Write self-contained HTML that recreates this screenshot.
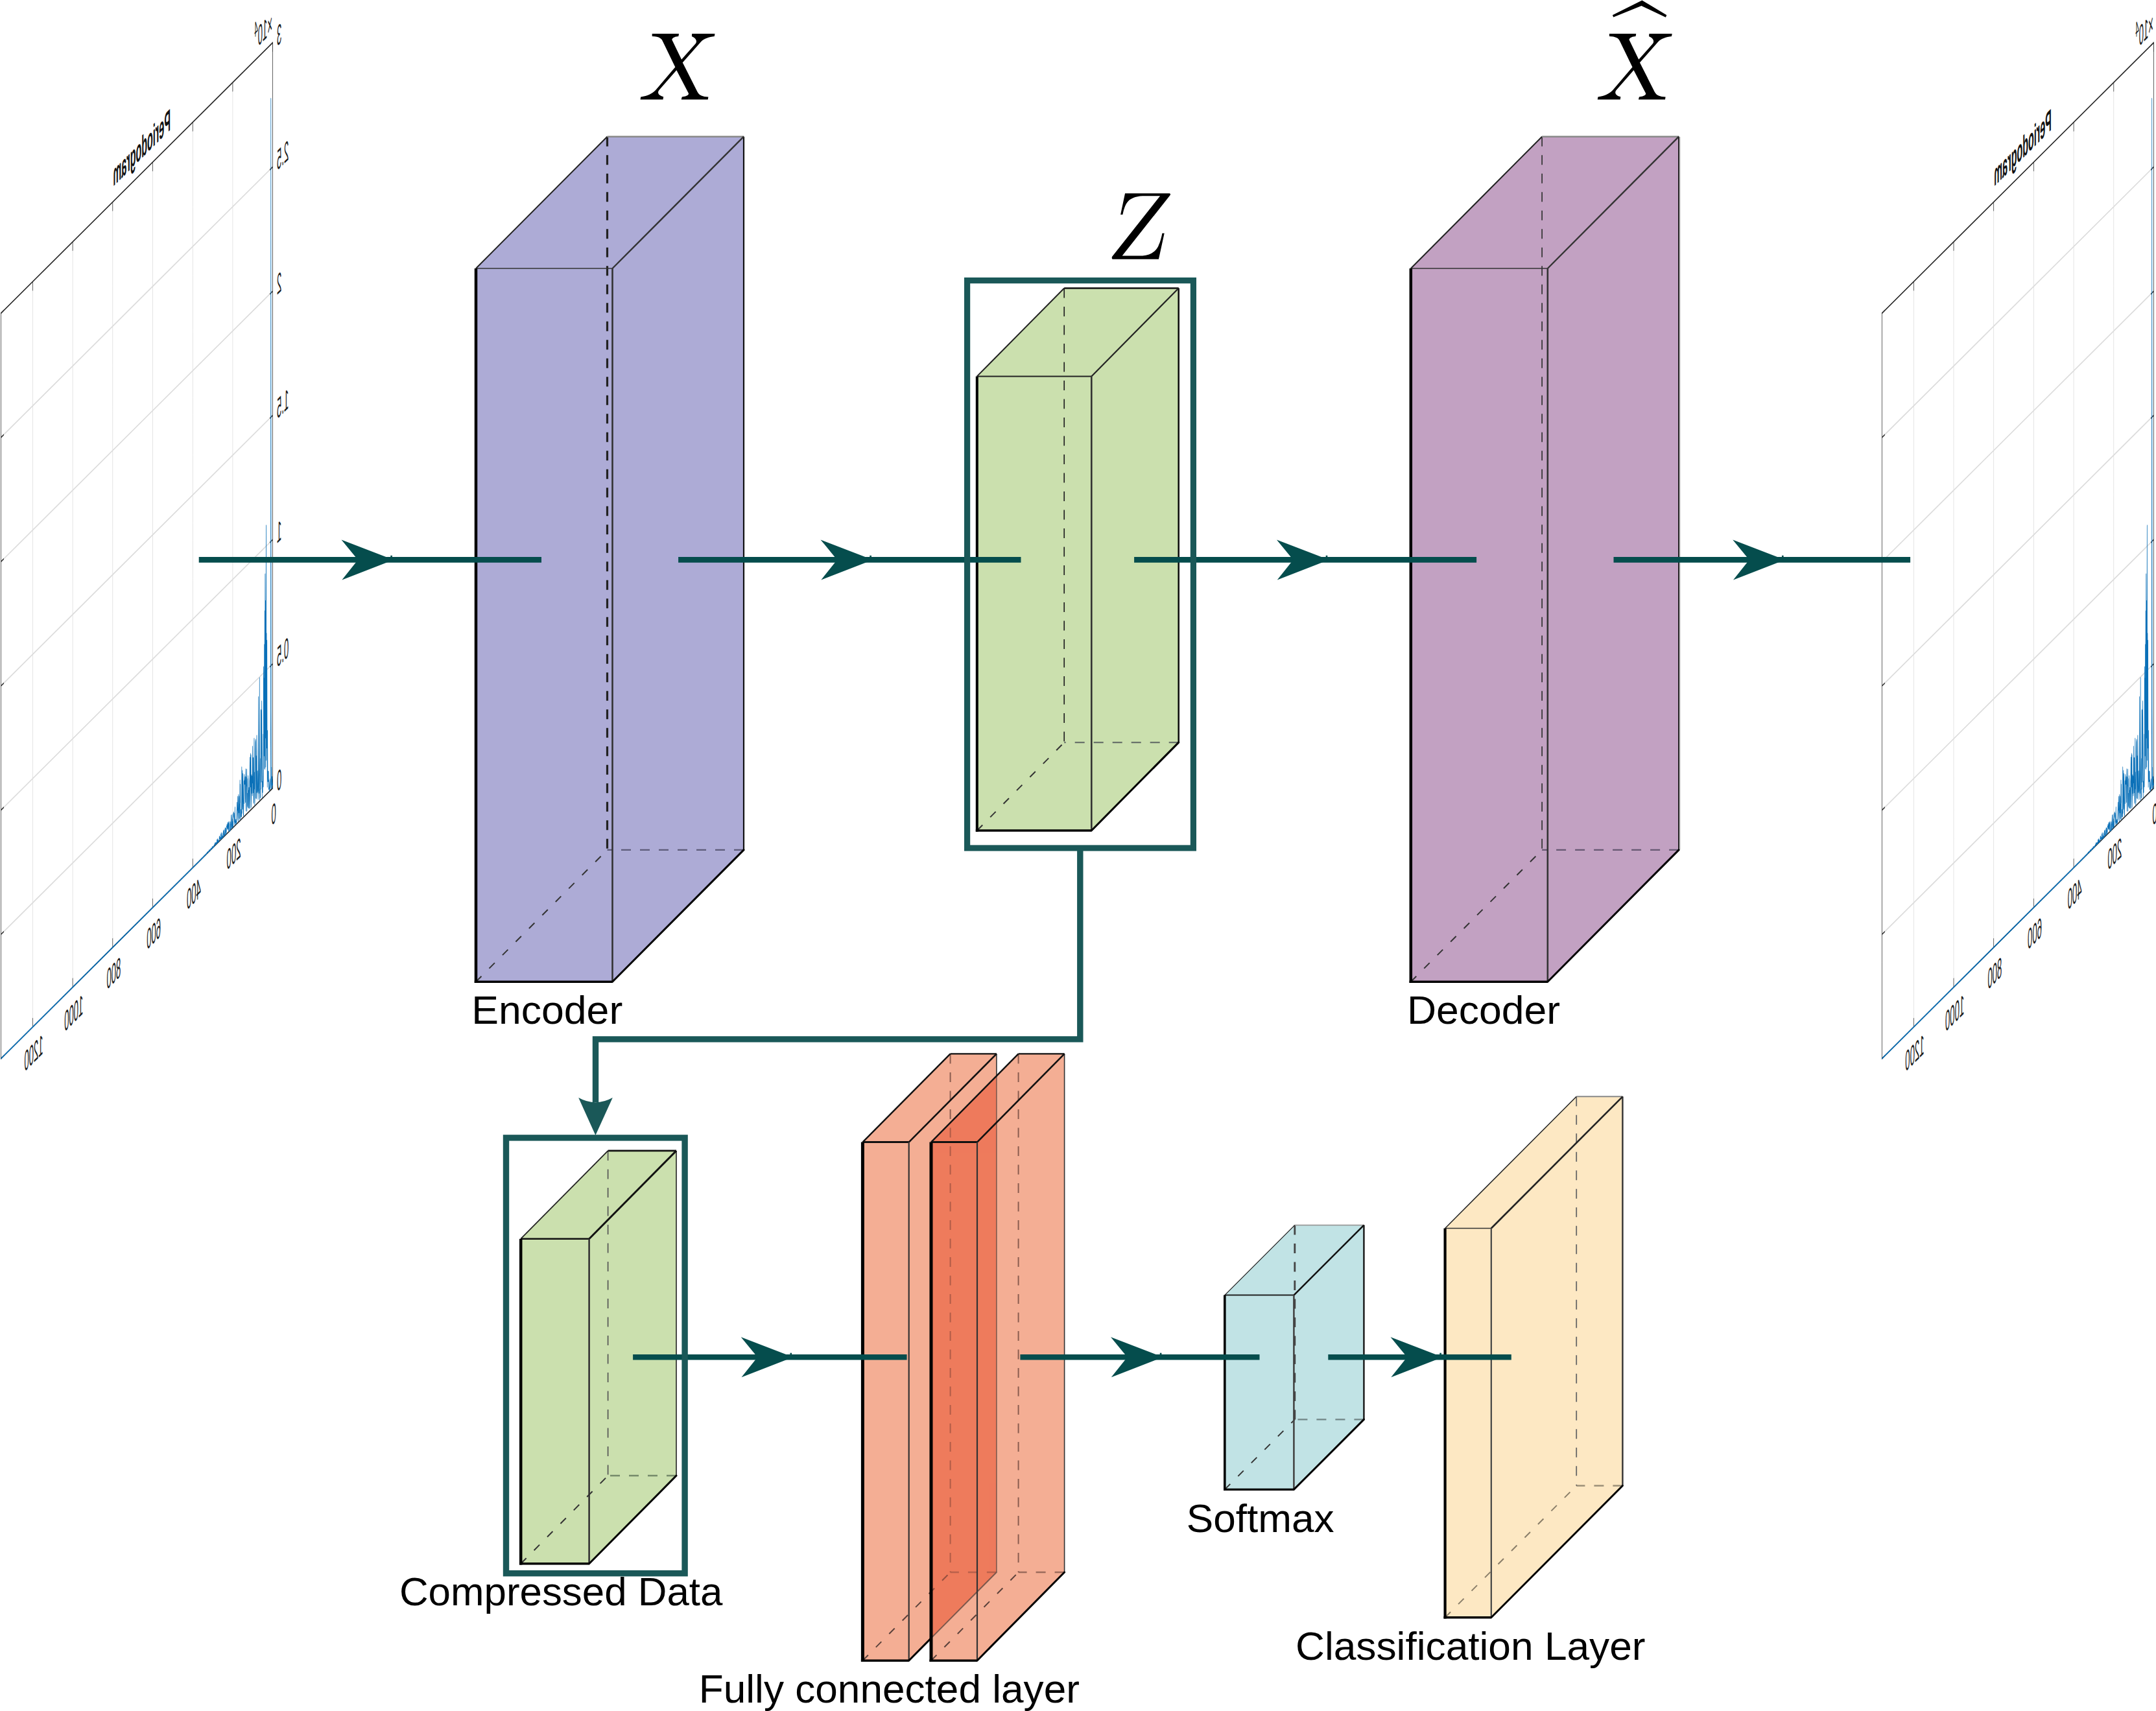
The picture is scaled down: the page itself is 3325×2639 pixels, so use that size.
<!DOCTYPE html>
<html><head><meta charset="utf-8"><title>Autoencoder diagram</title>
<style>html,body{margin:0;padding:0;background:#fff}body{width:3325px;height:2639px;overflow:hidden}svg{display:block}</style>
</head><body>
<svg width="3325" height="2639" viewBox="0 0 3325 2639">
<rect width="3325" height="2639" fill="#fff"/>
<defs>
<g id="plot">
<path d="M192.81,65.8 V1215.5 M385.62,65.8 V1215.5 M578.44,65.8 V1215.5 M771.25,65.8 V1215.5 M964.06,65.8 V1215.5 M1156.88,65.8 V1215.5 M0,1023.88 H1310 M0,832.27 H1310 M0,640.65 H1310 M0,449.03 H1310 M0,257.42 H1310" fill="none" stroke="#dcdcdc" stroke-width="2.4"/>
<path d="M0,65.8 H1310 V1215.5 H0 Z" fill="none" stroke="#222" stroke-width="2.2"/>
<path d="M0,65.8 v14 M0,1215.5 v-14 M192.81,65.8 v14 M192.81,1215.5 v-14 M385.62,65.8 v14 M385.62,1215.5 v-14 M578.44,65.8 v14 M578.44,1215.5 v-14 M771.25,65.8 v14 M771.25,1215.5 v-14 M964.06,65.8 v14 M964.06,1215.5 v-14 M1156.88,65.8 v14 M1156.88,1215.5 v-14 M0,1215.5 h14 M1310,1215.5 h-14 M0,1023.88 h14 M1310,1023.88 h-14 M0,832.27 h14 M1310,832.27 h-14 M0,640.65 h14 M1310,640.65 h-14 M0,449.03 h14 M1310,449.03 h-14 M0,257.42 h14 M1310,257.42 h-14 M0,65.8 h14 M1310,65.8 h-14" fill="none" stroke="#333" stroke-width="2.2"/>
<path d="M0,1211.86 L0.96,1208.06 L1.93,1208.85 L2.89,1197.47 L3.85,1214.49 L4.82,1213.98 L5.78,1182.54 L6.74,1213.12 L7.71,1095.5 L8.67,149.5 L9.63,1095.5 L10.6,1205.77 L11.56,1213.68 L12.52,1197.87 L13.49,1201.96 L14.45,1210.32 L15.41,1210.84 L16.38,1214.68 L17.34,1209.34 L18.3,1197.99 L19.26,1210.98 L20.23,1183.98 L21.19,1197.74 L22.15,1182.9 L23.12,1197.86 L24.08,1181.89 L25.04,1119.41 L26.01,1205.33 L26.97,1124.88 L27.93,979.37 L28.9,1144.01 L29.86,967.95 L30.82,1162.32 L31.79,800.5 L32.75,971.28 L33.71,1171.86 L34.68,916.09 L35.64,1126.18 L36.6,873.93 L37.57,1174.15 L38.53,930.46 L39.49,1171.96 L40.46,981.62 L41.42,1152.04 L42.38,1033.08 L43.35,1046.69 L44.31,1014.78 L45.27,1198.7 L46.24,1118.31 L47.2,1173.27 L48.16,1206.46 L49.13,1204.21 L50.09,1189.84 L51.05,1213.72 L52.01,1131.53 L52.98,1064.7 L53.94,1118.72 L54.9,1188.13 L55.87,1077.29 L56.83,1077.77 L57.79,1198.22 L58.76,1151.72 L59.72,1211.1 L60.68,1204.41 L61.65,1197.97 L62.61,1213.59 L63.57,1025.5 L64.54,1148.53 L65.5,1184.82 L66.46,1201.85 L67.43,1196.7 L68.39,1053.31 L69.35,1192.89 L70.32,1210.19 L71.28,1200.32 L72.24,1183.21 L73.21,1166.3 L74.17,1197.22 L75.13,1198.02 L76.1,1139.93 L77.06,1110.23 L78.02,1206.61 L78.99,1166.94 L79.95,1141.13 L80.91,1204.76 L81.88,1117.77 L82.84,1114.51 L83.8,1118.19 L84.76,1164.95 L85.73,1204.31 L86.69,1213.59 L87.65,1163.76 L88.62,1187.78 L89.58,1110.66 L90.54,1188.12 L91.51,1208.37 L92.47,1209.06 L93.43,1139.53 L94.4,1191.94 L95.36,1139.1 L96.32,1176.31 L97.29,1120.5 L98.25,1195.49 L99.21,1173.65 L100.18,1165.77 L101.14,1190.98 L102.1,1163.11 L103.07,1197.51 L104.03,1211.63 L104.99,1131.52 L105.96,1179.29 L106.92,1128.63 L107.88,1170.64 L108.85,1211.85 L109.81,1133.54 L110.77,1163.28 L111.74,1169.29 L112.7,1198.15 L113.66,1209.61 L114.63,1178.73 L115.59,1209.36 L116.55,1182.77 L117.51,1207.31 L118.48,1159.12 L119.44,1168.14 L120.4,1163.18 L121.37,1203.43 L122.33,1205.14 L123.29,1185.04 L124.26,1210.85 L125.22,1147.09 L126.18,1171.57 L127.15,1158.52 L128.11,1181.99 L129.07,1209.25 L130.04,1145.13 L131,1158.94 L131.96,1195.08 L132.93,1156.21 L133.89,1162.5 L134.85,1166.14 L135.82,1164.86 L136.78,1151.63 L137.74,1194.89 L138.71,1160.69 L139.67,1197.17 L140.63,1212.15 L141.6,1213.17 L142.56,1184.88 L143.52,1147.9 L144.49,1182.2 L145.45,1201.24 L146.41,1142.24 L147.38,1179.88 L148.34,1206.68 L149.3,1135.96 L150.26,1211.47 L151.23,1204.44 L152.19,1210.83 L153.15,1200.45 L154.12,1203.81 L155.08,1214.36 L156.04,1160.69 L157.01,1187.25 L157.97,1153.45 L158.93,1212.85 L159.9,1189.72 L160.86,1210.07 L161.82,1177.11 L162.79,1201.19 L163.75,1189.19 L164.71,1173.51 L165.68,1213.51 L166.64,1204.59 L167.6,1193.85 L168.57,1175.32 L169.53,1194.85 L170.49,1195.84 L171.46,1209.13 L172.42,1183.01 L173.38,1211.79 L174.35,1208.9 L175.31,1213.82 L176.27,1214.52 L177.24,1211.84 L178.2,1207.52 L179.16,1210.24 L180.13,1211.83 L181.09,1212.82 L182.05,1187.29 L183.01,1213.49 L183.98,1207.21 L184.94,1208.41 L185.9,1195.94 L186.87,1198.64 L187.83,1192.97 L188.79,1200.63 L189.76,1194.04 L190.72,1212.49 L191.68,1214.88 L192.65,1206.18 L193.61,1213.72 L194.57,1206.56 L195.54,1194.54 L196.5,1213.63 L197.46,1213.59 L198.43,1214.38 L199.39,1205.11 L200.35,1193.93 L201.32,1205.6 L202.28,1213.62 L203.24,1215.28 L204.21,1202.99 L205.17,1206.59 L206.13,1215.27 L207.1,1214.85 L208.06,1215.09 L209.02,1213.82 L209.99,1202.5 L210.95,1200.35 L211.91,1201.07 L212.88,1213.52 L213.84,1210.85 L214.8,1201.61 L215.76,1209.15 L216.73,1199.74 L217.69,1202.13 L218.65,1208.8 L219.62,1205.34 L220.58,1201.9 L221.54,1204.79 L222.51,1203.84 L223.47,1214.46 L224.43,1214.85 L225.4,1209.81 L226.36,1206 L227.32,1205.48 L228.29,1213.65 L229.25,1204.01 L230.21,1207.14 L231.18,1213.16 L232.14,1212.94 L233.1,1215.13 L234.07,1213.04 L235.03,1205.58 L235.99,1213.85 L236.96,1208.2 L237.92,1205.8 L238.88,1213.49 L239.85,1214.96 L240.81,1213.27 L241.77,1213.8 L242.74,1215.22 L243.7,1207.55 L244.66,1213.61 L245.63,1214.06 L246.59,1214.21 L247.55,1213.17 L248.51,1205.9 L249.48,1215.36 L250.44,1207.51 L251.4,1214.38 L252.37,1211.59 L253.33,1211.67 L254.29,1212.06 L255.26,1213.42 L256.22,1208.53 L257.18,1208.27 L258.15,1212.02 L259.11,1214.5 L260.07,1215.42 L261.04,1214.62 L262,1215.18 L262.96,1212.14 L263.93,1213.19 L264.89,1214.1 L265.85,1209.69 L266.82,1214.09 L267.78,1214.9 L268.74,1209.92 L269.71,1214.96 L270.67,1215.09 L271.63,1213.59 L272.6,1213.21 L273.56,1215.17 L274.52,1214.89 L275.49,1213.27 L276.45,1211.89 L277.41,1212.82 L278.38,1212.08 L279.34,1214.86 L280.3,1214.88 L281.26,1213.1 L282.23,1215.26 L283.19,1214.8 L284.15,1215.13 L285.12,1214.14 L286.08,1214.8 L287.04,1215.03 L288.01,1215.1 L288.97,1215.36 L289.93,1214.39 L290.9,1215.16 L291.86,1213.24 L292.82,1215.21 L293.79,1215.36 L294.75,1215.28 L295.71,1215.34 L296.68,1214.04 L297.64,1215.07 L298.6,1214.32 L299.57,1215.29 L300.53,1215.45 L301.49,1215.01 L302.46,1214.32 L303.42,1215.08 L304.38,1215.36 L305.35,1215.31 L306.31,1213.85 L307.27,1215.12 L308.24,1214.92 L309.2,1215.13 L310.16,1215.26 L311.13,1214.7 L312.09,1214.28 L313.05,1215.15 L314.01,1215.45 L314.98,1214.7 L315.94,1214.34 L316.9,1214.66 L317.87,1214.84 L318.83,1215.11 L319.79,1215.04 L320.76,1215.33 L321.72,1215.46 L322.68,1214.88 L323.65,1215.47 L324.61,1215.01 L325.57,1215.42 L326.54,1215.39 L327.5,1215.45 L328.46,1214.92 L329.43,1215.36 L330.39,1215.46 L331.35,1214.94 L332.32,1215.45 L333.28,1215.16 L334.24,1215.44 L335.21,1215.1 L336.17,1215.46 L337.13,1215.45 L338.1,1215.41 L339.06,1215.07 L340.02,1215.43 L340.99,1215.37 L341.95,1215.39 L342.91,1215.29 L343.88,1215.27 L344.84,1215.44 L345.8,1215.47 L346.76,1215.17 L347.73,1215.48 L348.69,1215.31 L349.65,1215.48 L350.62,1215.49 L351.58,1215.12 L352.54,1215.18 L353.51,1215.4 L354.47,1215.33 L355.43,1215.42 L356.4,1215.43 L357.36,1215.46 L358.32,1215.48 L359.29,1215.47 L360.25,1215.41 L361.21,1215.41 L362.18,1215.32 L363.14,1215.43 L364.1,1215.49 L365.07,1215.33 L366.03,1215.48 L366.99,1215.43 L367.96,1215.34 L368.92,1215.44 L369.88,1215.49 L370.85,1215.43 L371.81,1215.29 L372.77,1215.48 L373.74,1215.26 L374.7,1215.39 L375.66,1215.48 L376.63,1215.42 L377.59,1215.3 L378.55,1215.45 L379.51,1215.49 L380.48,1215.31 L381.44,1215.48 L382.4,1215.48 L383.37,1215.46 L384.33,1215.36 L385.29,1215.36 L386.26,1215.48 L387.22,1215.49 L388.18,1215.47 L389.15,1215.44 L390.11,1215.49 L391.07,1215.46 L392.04,1215.45 L393,1215.41 L393.96,1215.49 L394.93,1215.5 L395.89,1215.49 L396.85,1215.5 L397.82,1215.45 L398.78,1215.45 L399.74,1215.49 L400.71,1215.49 L401.67,1215.49 L402.63,1215.49 L403.6,1215.5 L404.56,1215.49 L405.52,1215.5 L406.49,1215.5 L407.45,1215.5 L408.41,1215.5 L409.38,1215.5 L410.34,1215.5 L411.3,1215.5 L412.26,1215.5 L413.23,1215.5 L414.19,1215.5 L415.15,1215.5 L416.12,1215.5 L417.08,1215.5 L418.04,1215.5 L419.01,1215.5 L419.97,1215.5 L420.93,1215.5 L421.9,1215.5 L422.86,1215.5 L423.82,1215.5 L424.79,1215.5 L425.75,1215.5 L426.71,1215.5 L427.68,1215.5 L428.64,1215.5 L429.6,1215.5 L430.57,1215.5 L431.53,1215.5 L432.49,1215.5 L433.46,1215.5 L434.42,1215.5 L435.38,1215.5 L436.35,1215.5 L437.31,1215.5 L438.27,1215.5 L439.24,1215.5 L440.2,1215.5 L441.16,1215.5 L442.13,1215.5 L443.09,1215.5 L444.05,1215.5 L445.01,1215.5 L445.98,1215.5 L446.94,1215.5 L447.9,1215.5 L448.87,1215.5 L449.83,1215.5 L450.79,1215.5 L451.76,1215.5 L452.72,1215.5 L453.68,1215.5 L454.65,1215.5 L455.61,1215.5 L456.57,1215.5 L457.54,1215.5 L458.5,1215.5 L459.46,1215.5 L460.43,1215.5 L461.39,1215.5 L462.35,1215.5 L463.32,1215.5 L464.28,1215.5 L465.24,1215.5 L466.21,1215.5 L467.17,1215.5 L468.13,1215.5 L469.1,1215.5 L470.06,1215.5 L471.02,1215.5 L471.99,1215.5 L472.95,1215.5 L473.91,1215.5 L474.88,1215.5 L475.84,1215.5 L476.8,1215.5 L477.76,1215.5 L478.73,1215.5 L479.69,1215.5 L480.65,1215.5 L481.62,1215.5 L482.58,1215.5 L483.54,1215.5 L484.51,1215.5 L485.47,1215.5 L486.43,1215.5 L487.4,1215.5 L488.36,1215.5 L489.32,1215.5 L490.29,1215.5 L491.25,1215.5 L492.21,1215.5 L493.18,1215.5 L494.14,1215.5 L495.1,1215.5 L496.07,1215.5 L497.03,1215.5 L497.99,1215.5 L498.96,1215.5 L499.92,1215.5 L500.88,1215.5 L501.85,1215.5 L502.81,1215.5 L503.77,1215.5 L504.74,1215.5 L505.7,1215.5 L506.66,1215.5 L507.63,1215.5 L508.59,1215.5 L509.55,1215.5 L510.51,1215.5 L511.48,1215.5 L512.44,1215.5 L513.4,1215.5 L514.37,1215.5 L515.33,1215.5 L516.29,1215.5 L517.26,1215.5 L518.22,1215.5 L519.18,1215.5 L520.15,1215.5 L521.11,1215.5 L522.07,1215.5 L523.04,1215.5 L524,1215.5 L524.96,1215.5 L525.93,1215.5 L526.89,1215.5 L527.85,1215.5 L528.82,1215.5 L529.78,1215.5 L530.74,1215.5 L531.71,1215.5 L532.67,1215.5 L533.63,1215.5 L534.6,1215.5 L535.56,1215.5 L536.52,1215.5 L537.49,1215.5 L538.45,1215.5 L539.41,1215.5 L540.38,1215.5 L541.34,1215.5 L542.3,1215.5 L543.26,1215.5 L544.23,1215.5 L545.19,1215.5 L546.15,1215.5 L547.12,1215.5 L548.08,1215.5 L549.04,1215.5 L550.01,1215.5 L550.97,1215.5 L551.93,1215.5 L552.9,1215.5 L553.86,1215.5 L554.82,1215.5 L555.79,1215.5 L556.75,1215.5 L557.71,1215.5 L558.68,1215.5 L559.64,1215.5 L560.6,1215.5 L561.57,1215.5 L562.53,1215.5 L563.49,1215.5 L564.46,1215.5 L565.42,1215.5 L566.38,1215.5 L567.35,1215.5 L568.31,1215.5 L569.27,1215.5 L570.24,1215.5 L571.2,1215.5 L572.16,1215.5 L573.13,1215.5 L574.09,1215.5 L575.05,1215.5 L576.01,1215.5 L576.98,1215.5 L577.94,1215.5 L578.9,1215.5 L579.87,1215.5 L580.83,1215.5 L581.79,1215.5 L582.76,1215.5 L583.72,1215.5 L584.68,1215.5 L585.65,1215.5 L586.61,1215.5 L587.57,1215.5 L588.54,1215.5 L589.5,1215.5 L590.46,1215.5 L591.43,1215.5 L592.39,1215.5 L593.35,1215.5 L594.32,1215.5 L595.28,1215.5 L596.24,1215.5 L597.21,1215.5 L598.17,1215.5 L599.13,1215.5 L600.1,1215.5 L601.06,1215.5 L602.02,1215.5 L602.99,1215.5 L603.95,1215.5 L604.91,1215.5 L605.88,1215.5 L606.84,1215.5 L607.8,1215.5 L608.76,1215.5 L609.73,1215.5 L610.69,1215.5 L611.65,1215.5 L612.62,1215.5 L613.58,1215.5 L614.54,1215.5 L615.51,1215.5 L616.47,1215.5 L617.43,1215.5 L618.4,1215.5 L619.36,1215.5 L620.32,1215.5 L621.29,1215.5 L622.25,1215.5 L623.21,1215.5 L624.18,1215.5 L625.14,1215.5 L626.1,1215.5 L627.07,1215.5 L628.03,1215.5 L628.99,1215.5 L629.96,1215.5 L630.92,1215.5 L631.88,1215.5 L632.85,1215.5 L633.81,1215.5 L634.77,1215.5 L635.74,1215.5 L636.7,1215.5 L637.66,1215.5 L638.63,1215.5 L639.59,1215.5 L640.55,1215.5 L641.51,1215.5 L642.48,1215.5 L643.44,1215.5 L644.4,1215.5 L645.37,1215.5 L646.33,1215.5 L647.29,1215.5 L648.26,1215.5 L649.22,1215.5 L650.18,1215.5 L651.15,1215.5 L652.11,1215.5 L653.07,1215.5 L654.04,1215.5 L655,1215.5 L655.96,1215.5 L656.93,1215.5 L657.89,1215.5 L658.85,1215.5 L659.82,1215.5 L660.78,1215.5 L661.74,1215.5 L662.71,1215.5 L663.67,1215.5 L664.63,1215.5 L665.6,1215.5 L666.56,1215.5 L667.52,1215.5 L668.49,1215.5 L669.45,1215.5 L670.41,1215.5 L671.38,1215.5 L672.34,1215.5 L673.3,1215.5 L674.26,1215.5 L675.23,1215.5 L676.19,1215.5 L677.15,1215.5 L678.12,1215.5 L679.08,1215.5 L680.04,1215.5 L681.01,1215.5 L681.97,1215.5 L682.93,1215.5 L683.9,1215.5 L684.86,1215.5 L685.82,1215.5 L686.79,1215.5 L687.75,1215.5 L688.71,1215.5 L689.68,1215.5 L690.64,1215.5 L691.6,1215.5 L692.57,1215.5 L693.53,1215.5 L694.49,1215.5 L695.46,1215.5 L696.42,1215.5 L697.38,1215.5 L698.35,1215.5 L699.31,1215.5 L700.27,1215.5 L701.24,1215.5 L702.2,1215.5 L703.16,1215.5 L704.13,1215.5 L705.09,1215.5 L706.05,1215.5 L707.01,1215.5 L707.98,1215.5 L708.94,1215.5 L709.9,1215.5 L710.87,1215.5 L711.83,1215.5 L712.79,1215.5 L713.76,1215.5 L714.72,1215.5 L715.68,1215.5 L716.65,1215.5 L717.61,1215.5 L718.57,1215.5 L719.54,1215.5 L720.5,1215.5 L721.46,1215.5 L722.43,1215.5 L723.39,1215.5 L724.35,1215.5 L725.32,1215.5 L726.28,1215.5 L727.24,1215.5 L728.21,1215.5 L729.17,1215.5 L730.13,1215.5 L731.1,1215.5 L732.06,1215.5 L733.02,1215.5 L733.99,1215.5 L734.95,1215.5 L735.91,1215.5 L736.88,1215.5 L737.84,1215.5 L738.8,1215.5 L739.76,1215.5 L740.73,1215.5 L741.69,1215.5 L742.65,1215.5 L743.62,1215.5 L744.58,1215.5 L745.54,1215.5 L746.51,1215.5 L747.47,1215.5 L748.43,1215.5 L749.4,1215.5 L750.36,1215.5 L751.32,1215.5 L752.29,1215.5 L753.25,1215.5 L754.21,1215.5 L755.18,1215.5 L756.14,1215.5 L757.1,1215.5 L758.07,1215.5 L759.03,1215.5 L759.99,1215.5 L760.96,1215.5 L761.92,1215.5 L762.88,1215.5 L763.85,1215.5 L764.81,1215.5 L765.77,1215.5 L766.74,1215.5 L767.7,1215.5 L768.66,1215.5 L769.63,1215.5 L770.59,1215.5 L771.55,1215.5 L772.51,1215.5 L773.48,1215.5 L774.44,1215.5 L775.4,1215.5 L776.37,1215.5 L777.33,1215.5 L778.29,1215.5 L779.26,1215.5 L780.22,1215.5 L781.18,1215.5 L782.15,1215.5 L783.11,1215.5 L784.07,1215.5 L785.04,1215.5 L786,1215.5 L786.96,1215.5 L787.93,1215.5 L788.89,1215.5 L789.85,1215.5 L790.82,1215.5 L791.78,1215.5 L792.74,1215.5 L793.71,1215.5 L794.67,1215.5 L795.63,1215.5 L796.6,1215.5 L797.56,1215.5 L798.52,1215.5 L799.49,1215.5 L800.45,1215.5 L801.41,1215.5 L802.38,1215.5 L803.34,1215.5 L804.3,1215.5 L805.26,1215.5 L806.23,1215.5 L807.19,1215.5 L808.15,1215.5 L809.12,1215.5 L810.08,1215.5 L811.04,1215.5 L812.01,1215.5 L812.97,1215.5 L813.93,1215.5 L814.9,1215.5 L815.86,1215.5 L816.82,1215.5 L817.79,1215.5 L818.75,1215.5 L819.71,1215.5 L820.68,1215.5 L821.64,1215.5 L822.6,1215.5 L823.57,1215.5 L824.53,1215.5 L825.49,1215.5 L826.46,1215.5 L827.42,1215.5 L828.38,1215.5 L829.35,1215.5 L830.31,1215.5 L831.27,1215.5 L832.24,1215.5 L833.2,1215.5 L834.16,1215.5 L835.13,1215.5 L836.09,1215.5 L837.05,1215.5 L838.01,1215.5 L838.98,1215.5 L839.94,1215.5 L840.9,1215.5 L841.87,1215.5 L842.83,1215.5 L843.79,1215.5 L844.76,1215.5 L845.72,1215.5 L846.68,1215.5 L847.65,1215.5 L848.61,1215.5 L849.57,1215.5 L850.54,1215.5 L851.5,1215.5 L852.46,1215.5 L853.43,1215.5 L854.39,1215.5 L855.35,1215.5 L856.32,1215.5 L857.28,1215.5 L858.24,1215.5 L859.21,1215.5 L860.17,1215.5 L861.13,1215.5 L862.1,1215.5 L863.06,1215.5 L864.02,1215.5 L864.99,1215.5 L865.95,1215.5 L866.91,1215.5 L867.88,1215.5 L868.84,1215.5 L869.8,1215.5 L870.76,1215.5 L871.73,1215.5 L872.69,1215.5 L873.65,1215.5 L874.62,1215.5 L875.58,1215.5 L876.54,1215.5 L877.51,1215.5 L878.47,1215.5 L879.43,1215.5 L880.4,1215.5 L881.36,1215.5 L882.32,1215.5 L883.29,1215.5 L884.25,1215.5 L885.21,1215.5 L886.18,1215.5 L887.14,1215.5 L888.1,1215.5 L889.07,1215.5 L890.03,1215.5 L890.99,1215.5 L891.96,1215.5 L892.92,1215.5 L893.88,1215.5 L894.85,1215.5 L895.81,1215.5 L896.77,1215.5 L897.74,1215.5 L898.7,1215.5 L899.66,1215.5 L900.63,1215.5 L901.59,1215.5 L902.55,1215.5 L903.51,1215.5 L904.48,1215.5 L905.44,1215.5 L906.4,1215.5 L907.37,1215.5 L908.33,1215.5 L909.29,1215.5 L910.26,1215.5 L911.22,1215.5 L912.18,1215.5 L913.15,1215.5 L914.11,1215.5 L915.07,1215.5 L916.04,1215.5 L917,1215.5 L917.96,1215.5 L918.93,1215.5 L919.89,1215.5 L920.85,1215.5 L921.82,1215.5 L922.78,1215.5 L923.74,1215.5 L924.71,1215.5 L925.67,1215.5 L926.63,1215.5 L927.6,1215.5 L928.56,1215.5 L929.52,1215.5 L930.49,1215.5 L931.45,1215.5 L932.41,1215.5 L933.38,1215.5 L934.34,1215.5 L935.3,1215.5 L936.26,1215.5 L937.23,1215.5 L938.19,1215.5 L939.15,1215.5 L940.12,1215.5 L941.08,1215.5 L942.04,1215.5 L943.01,1215.5 L943.97,1215.5 L944.93,1215.5 L945.9,1215.5 L946.86,1215.5 L947.82,1215.5 L948.79,1215.5 L949.75,1215.5 L950.71,1215.5 L951.68,1215.5 L952.64,1215.5 L953.6,1215.5 L954.57,1215.5 L955.53,1215.5 L956.49,1215.5 L957.46,1215.5 L958.42,1215.5 L959.38,1215.5 L960.35,1215.5 L961.31,1215.5 L962.27,1215.5 L963.24,1215.5 L964.2,1215.5 L965.16,1215.5 L966.13,1215.5 L967.09,1215.5 L968.05,1215.5 L969.01,1215.5 L969.98,1215.5 L970.94,1215.5 L971.9,1215.5 L972.87,1215.5 L973.83,1215.5 L974.79,1215.5 L975.76,1215.5 L976.72,1215.5 L977.68,1215.5 L978.65,1215.5 L979.61,1215.5 L980.57,1215.5 L981.54,1215.5 L982.5,1215.5 L983.46,1215.5 L984.43,1215.5 L985.39,1215.5 L986.35,1215.5 L987.32,1215.5 L988.28,1215.5 L989.24,1215.5 L990.21,1215.5 L991.17,1215.5 L992.13,1215.5 L993.1,1215.5 L994.06,1215.5 L995.02,1215.5 L995.99,1215.5 L996.95,1215.5 L997.91,1215.5 L998.88,1215.5 L999.84,1215.5 L1000.8,1215.5 L1001.76,1215.5 L1002.73,1215.5 L1003.69,1215.5 L1004.65,1215.5 L1005.62,1215.5 L1006.58,1215.5 L1007.54,1215.5 L1008.51,1215.5 L1009.47,1215.5 L1010.43,1215.5 L1011.4,1215.5 L1012.36,1215.5 L1013.32,1215.5 L1014.29,1215.5 L1015.25,1215.5 L1016.21,1215.5 L1017.18,1215.5 L1018.14,1215.5 L1019.1,1215.5 L1020.07,1215.5 L1021.03,1215.5 L1021.99,1215.5 L1022.96,1215.5 L1023.92,1215.5 L1024.88,1215.5 L1025.85,1215.5 L1026.81,1215.5 L1027.77,1215.5 L1028.74,1215.5 L1029.7,1215.5 L1030.66,1215.5 L1031.63,1215.5 L1032.59,1215.5 L1033.55,1215.5 L1034.51,1215.5 L1035.48,1215.5 L1036.44,1215.5 L1037.4,1215.5 L1038.37,1215.5 L1039.33,1215.5 L1040.29,1215.5 L1041.26,1215.5 L1042.22,1215.5 L1043.18,1215.5 L1044.15,1215.5 L1045.11,1215.5 L1046.07,1215.5 L1047.04,1215.5 L1048,1215.5 L1048.96,1215.5 L1049.93,1215.5 L1050.89,1215.5 L1051.85,1215.5 L1052.82,1215.5 L1053.78,1215.5 L1054.74,1215.5 L1055.71,1215.5 L1056.67,1215.5 L1057.63,1215.5 L1058.6,1215.5 L1059.56,1215.5 L1060.52,1215.5 L1061.49,1215.5 L1062.45,1215.5 L1063.41,1215.5 L1064.38,1215.5 L1065.34,1215.5 L1066.3,1215.5 L1067.26,1215.5 L1068.23,1215.5 L1069.19,1215.5 L1070.15,1215.5 L1071.12,1215.5 L1072.08,1215.5 L1073.04,1215.5 L1074.01,1215.5 L1074.97,1215.5 L1075.93,1215.5 L1076.9,1215.5 L1077.86,1215.5 L1078.82,1215.5 L1079.79,1215.5 L1080.75,1215.5 L1081.71,1215.5 L1082.68,1215.5 L1083.64,1215.5 L1084.6,1215.5 L1085.57,1215.5 L1086.53,1215.5 L1087.49,1215.5 L1088.46,1215.5 L1089.42,1215.5 L1090.38,1215.5 L1091.35,1215.5 L1092.31,1215.5 L1093.27,1215.5 L1094.24,1215.5 L1095.2,1215.5 L1096.16,1215.5 L1097.13,1215.5 L1098.09,1215.5 L1099.05,1215.5 L1100.01,1215.5 L1100.98,1215.5 L1101.94,1215.5 L1102.9,1215.5 L1103.87,1215.5 L1104.83,1215.5 L1105.79,1215.5 L1106.76,1215.5 L1107.72,1215.5 L1108.68,1215.5 L1109.65,1215.5 L1110.61,1215.5 L1111.57,1215.5 L1112.54,1215.5 L1113.5,1215.5 L1114.46,1215.5 L1115.43,1215.5 L1116.39,1215.5 L1117.35,1215.5 L1118.32,1215.5 L1119.28,1215.5 L1120.24,1215.5 L1121.21,1215.5 L1122.17,1215.5 L1123.13,1215.5 L1124.1,1215.5 L1125.06,1215.5 L1126.02,1215.5 L1126.99,1215.5 L1127.95,1215.5 L1128.91,1215.5 L1129.88,1215.5 L1130.84,1215.5 L1131.8,1215.5 L1132.76,1215.5 L1133.73,1215.5 L1134.69,1215.5 L1135.65,1215.5 L1136.62,1215.5 L1137.58,1215.5 L1138.54,1215.5 L1139.51,1215.5 L1140.47,1215.5 L1141.43,1215.5 L1142.4,1215.5 L1143.36,1215.5 L1144.32,1215.5 L1145.29,1215.5 L1146.25,1215.5 L1147.21,1215.5 L1148.18,1215.5 L1149.14,1215.5 L1150.1,1215.5 L1151.07,1215.5 L1152.03,1215.5 L1152.99,1215.5 L1153.96,1215.5 L1154.92,1215.5 L1155.88,1215.5 L1156.85,1215.5 L1157.81,1215.5 L1158.77,1215.5 L1159.74,1215.5 L1160.7,1215.5 L1161.66,1215.5 L1162.63,1215.5 L1163.59,1215.5 L1164.55,1215.5 L1165.51,1215.5 L1166.48,1215.5 L1167.44,1215.5 L1168.4,1215.5 L1169.37,1215.5 L1170.33,1215.5 L1171.29,1215.5 L1172.26,1215.5 L1173.22,1215.5 L1174.18,1215.5 L1175.15,1215.5 L1176.11,1215.5 L1177.07,1215.5 L1178.04,1215.5 L1179,1215.5 L1179.96,1215.5 L1180.93,1215.5 L1181.89,1215.5 L1182.85,1215.5 L1183.82,1215.5 L1184.78,1215.5 L1185.74,1215.5 L1186.71,1215.5 L1187.67,1215.5 L1188.63,1215.5 L1189.6,1215.5 L1190.56,1215.5 L1191.52,1215.5 L1192.49,1215.5 L1193.45,1215.5 L1194.41,1215.5 L1195.38,1215.5 L1196.34,1215.5 L1197.3,1215.5 L1198.26,1215.5 L1199.23,1215.5 L1200.19,1215.5 L1201.15,1215.5 L1202.12,1215.5 L1203.08,1215.5 L1204.04,1215.5 L1205.01,1215.5 L1205.97,1215.5 L1206.93,1215.5 L1207.9,1215.5 L1208.86,1215.5 L1209.82,1215.5 L1210.79,1215.5 L1211.75,1215.5 L1212.71,1215.5 L1213.68,1215.5 L1214.64,1215.5 L1215.6,1215.5 L1216.57,1215.5 L1217.53,1215.5 L1218.49,1215.5 L1219.46,1215.5 L1220.42,1215.5 L1221.38,1215.5 L1222.35,1215.5 L1223.31,1215.5 L1224.27,1215.5 L1225.24,1215.5 L1226.2,1215.5 L1227.16,1215.5 L1228.13,1215.5 L1229.09,1215.5 L1230.05,1215.5 L1231.01,1215.5 L1231.98,1215.5 L1232.94,1215.5 L1233.9,1215.5 L1234.87,1215.5 L1235.83,1215.5 L1236.79,1215.5 L1237.76,1215.5 L1238.72,1215.5 L1239.68,1215.5 L1240.65,1215.5 L1241.61,1215.5 L1242.57,1215.5 L1243.54,1215.5 L1244.5,1215.5 L1245.46,1215.5 L1246.43,1215.5 L1247.39,1215.5 L1248.35,1215.5 L1249.32,1215.5 L1250.28,1215.5 L1251.24,1215.5 L1252.21,1215.5 L1253.17,1215.5 L1254.13,1215.5 L1255.1,1215.5 L1256.06,1215.5 L1257.02,1215.5 L1257.99,1215.5 L1258.95,1215.5 L1259.91,1215.5 L1260.88,1215.5 L1261.84,1215.5 L1262.8,1215.5 L1263.76,1215.5 L1264.73,1215.5 L1265.69,1215.5 L1266.65,1215.5 L1267.62,1215.5 L1268.58,1215.5 L1269.54,1215.5 L1270.51,1215.5 L1271.47,1215.5 L1272.43,1215.5 L1273.4,1215.5 L1274.36,1215.5 L1275.32,1215.5 L1276.29,1215.5 L1277.25,1215.5 L1278.21,1215.5 L1279.18,1215.5 L1280.14,1215.5 L1281.1,1215.5 L1282.07,1215.5 L1283.03,1215.5 L1283.99,1215.5 L1284.96,1215.5 L1285.92,1215.5 L1286.88,1215.5 L1287.85,1215.5 L1288.81,1215.5 L1289.77,1215.5 L1290.74,1215.5 L1291.7,1215.5 L1292.66,1215.5 L1293.63,1215.5 L1294.59,1215.5 L1295.55,1215.5 L1296.51,1215.5 L1297.48,1215.5 L1298.44,1215.5 L1299.4,1215.5 L1300.37,1215.5 L1301.33,1215.5 L1302.29,1215.5 L1303.26,1215.5 L1304.22,1215.5 L1305.18,1215.5 L1306.15,1215.5 L1307.11,1215.5 L1308.07,1215.5 L1309.04,1215.5 L1310,1215.5" fill="none" stroke="#0a70b8" stroke-width="2.4" stroke-linejoin="round"/>
<g font-family="Liberation Sans, sans-serif" font-size="44" fill="#1a1a1a">
<text transform="translate(-5,1272) scale(0.93,1)" text-anchor="middle">0</text>
<text transform="translate(187.81,1272) scale(0.93,1)" text-anchor="middle">200</text>
<text transform="translate(380.62,1272) scale(0.93,1)" text-anchor="middle">400</text>
<text transform="translate(573.44,1272) scale(0.93,1)" text-anchor="middle">600</text>
<text transform="translate(766.25,1272) scale(0.93,1)" text-anchor="middle">800</text>
<text transform="translate(959.06,1272) scale(0.93,1)" text-anchor="middle">1000</text>
<text transform="translate(1151.88,1272) scale(0.93,1)" text-anchor="middle">1200</text>
<text transform="translate(-20,1228) scale(0.93,1)" text-anchor="end">0</text>
<text transform="translate(-20,1036.38) scale(0.93,1)" text-anchor="end">0.5</text>
<text transform="translate(-20,844.77) scale(0.93,1)" text-anchor="end">1</text>
<text transform="translate(-20,653.15) scale(0.93,1)" text-anchor="end">1.5</text>
<text transform="translate(-20,461.53) scale(0.93,1)" text-anchor="end">2</text>
<text transform="translate(-20,269.92) scale(0.93,1)" text-anchor="end">2.5</text>
<text transform="translate(-20,78.3) scale(0.93,1)" text-anchor="end">3</text>
<text transform="translate(2,49) scale(0.93,1)">&#215;10<tspan font-size="33" dy="-19">4</tspan></text>
</g>
<text transform="translate(631,42.7) scale(0.944,1)" text-anchor="middle" font-family="Liberation Sans, sans-serif" font-weight="bold" font-size="47.5" fill="#111">Periodogram</text>
</g>
</defs>
<use href="#plot" transform="matrix(-0.32 0.3186 0 1 420.6 0)"/>
<use href="#plot" transform="matrix(-0.32 0.3186 0 1 3321.5 0)"/>
<!-- encoder -->
<polygon points="734,1514.2 734,414 936.5,210.7 1147,210.7 1147,1310.9 944.5,1514.2" fill="#adabd6"/>
<path d="M936.5,210.7 L936.5,1310.9" fill="none" stroke="#222" stroke-width="3.2" stroke-dasharray="15 13.5"/>
<path d="M734,1514.2 L936.5,1310.9" fill="none" stroke="#333" stroke-width="2.0" stroke-dasharray="12 17"/>
<path d="M1147,1310.9 L936.5,1310.9" fill="none" stroke="rgba(40,40,60,0.6)" stroke-width="2.4" stroke-dasharray="15 14"/>
<path d="M734,414 L936.5,210.7" fill="none" stroke="#222" stroke-width="2.0"/>
<path d="M936.5,210.7 L1147,210.7" fill="none" stroke="#888" stroke-width="2.5"/>
<path d="M1147,210.7 L1147,1310.9" fill="none" stroke="#111" stroke-width="2.2"/>
<path d="M944.5,414 L1147,210.7" fill="none" stroke="#333" stroke-width="2.4"/>
<path d="M734,414 L944.5,414" fill="none" stroke="#333" stroke-width="1.6"/>
<path d="M944.5,414 L944.5,1514.2" fill="none" stroke="#333" stroke-width="2.6"/>
<path d="M734,414 L734,1515.95" fill="none" stroke="#000" stroke-width="4.5"/>
<path d="M731.75,1514.2 L944.5,1514.2" fill="none" stroke="#000" stroke-width="3.5"/>
<path d="M944.5,1514.2 L1147,1310.9" fill="none" stroke="#000" stroke-width="3.0" stroke-linecap="round"/>
<!-- decoder -->
<polygon points="2175.8,1514.2 2175.8,414 2378.1,210.7 2589.1,210.7 2589.1,1310.9 2386.8,1514.2" fill="#c2a1c2"/>
<path d="M2378.1,210.7 L2378.1,1310.9" fill="none" stroke="#333" stroke-width="1.7" stroke-dasharray="15 13.5"/>
<path d="M2175.8,1514.2 L2378.1,1310.9" fill="none" stroke="#333" stroke-width="2.0" stroke-dasharray="12 17"/>
<path d="M2589.1,1310.9 L2378.1,1310.9" fill="none" stroke="rgba(40,40,60,0.6)" stroke-width="2.4" stroke-dasharray="15 14"/>
<path d="M2175.8,414 L2378.1,210.7" fill="none" stroke="#222" stroke-width="2.0"/>
<path d="M2378.1,210.7 L2589.1,210.7" fill="none" stroke="#888" stroke-width="2.5"/>
<path d="M2589.1,210.7 L2589.1,1310.9" fill="none" stroke="#1a1a1a" stroke-width="2.0"/>
<path d="M2386.8,414 L2589.1,210.7" fill="none" stroke="#333" stroke-width="2.4"/>
<path d="M2175.8,414 L2386.8,414" fill="none" stroke="#333" stroke-width="1.6"/>
<path d="M2386.8,414 L2386.8,1514.2" fill="none" stroke="#333" stroke-width="2.6"/>
<path d="M2175.8,414 L2175.8,1515.95" fill="none" stroke="#000" stroke-width="4.5"/>
<path d="M2173.55,1514.2 L2386.8,1514.2" fill="none" stroke="#000" stroke-width="3.5"/>
<path d="M2386.8,1514.2 L2589.1,1310.9" fill="none" stroke="#000" stroke-width="3.0" stroke-linecap="round"/>
<path d="M2591,211 V1310" stroke="#cfcfcf" stroke-width="1.6" fill="none"/>
<!-- Z -->
<polygon points="1506.8,1281 1506.8,580.4 1641.2,444.5 1817.7,444.5 1817.7,1145.1 1683.3,1281" fill="#cbe0ae"/>
<path d="M1641.2,444.5 L1641.2,1145.1" fill="none" stroke="#222" stroke-width="1.7" stroke-dasharray="15 13.5"/>
<path d="M1506.8,1281 L1641.2,1145.1" fill="none" stroke="#333" stroke-width="2.0" stroke-dasharray="12 17"/>
<path d="M1817.7,1145.1 L1641.2,1145.1" fill="none" stroke="rgba(40,40,60,0.6)" stroke-width="2.4" stroke-dasharray="15 14"/>
<path d="M1506.8,580.4 L1641.2,444.5" fill="none" stroke="#222" stroke-width="2"/>
<path d="M1641.2,444.5 L1817.7,444.5" fill="none" stroke="#111" stroke-width="2.6"/>
<path d="M1817.7,444.5 L1817.7,1145.1" fill="none" stroke="#111" stroke-width="2.6"/>
<path d="M1683.3,580.4 L1817.7,444.5" fill="none" stroke="#222" stroke-width="2.2"/>
<path d="M1506.8,580.4 L1683.3,580.4" fill="none" stroke="#222" stroke-width="2"/>
<path d="M1683.3,580.4 L1683.3,1281" fill="none" stroke="#333" stroke-width="2.6"/>
<path d="M1506.8,580.4 L1506.8,1282.7" fill="none" stroke="#000" stroke-width="4"/>
<path d="M1504.8,1281 L1683.3,1281" fill="none" stroke="#000" stroke-width="3.4"/>
<path d="M1683.3,1281 L1817.7,1145.1" fill="none" stroke="#000" stroke-width="3.0" stroke-linecap="round"/>
<!-- compressed -->
<polygon points="803.2,2411.8 803.2,1910.7 937.6,1774.9 1043,1774.9 1043,2276 908.6,2411.8" fill="#cbe0ae"/>
<path d="M937.6,1774.9 L937.6,2276" fill="none" stroke="#555" stroke-width="1.7" stroke-dasharray="15 13.5"/>
<path d="M803.2,2411.8 L937.6,2276" fill="none" stroke="#333" stroke-width="2.0" stroke-dasharray="12 17"/>
<path d="M1043,2276 L937.6,2276" fill="none" stroke="rgba(60,80,60,0.6)" stroke-width="2.4" stroke-dasharray="15 14"/>
<path d="M803.2,1910.7 L937.6,1774.9" fill="none" stroke="#222" stroke-width="1.8"/>
<path d="M937.6,1774.9 L1043,1774.9" fill="none" stroke="#111" stroke-width="2.6"/>
<path d="M1043,1774.9 L1043,2276" fill="none" stroke="#222" stroke-width="1.6"/>
<path d="M908.6,1910.7 L1043,1774.9" fill="none" stroke="#111" stroke-width="3"/>
<path d="M803.2,1910.7 L908.6,1910.7" fill="none" stroke="#111" stroke-width="2.6"/>
<path d="M908.6,1910.7 L908.6,2411.8" fill="none" stroke="#333" stroke-width="2.6"/>
<path d="M803.2,1910.7 L803.2,2413.5" fill="none" stroke="#000" stroke-width="4.5"/>
<path d="M800.95,2411.8 L908.6,2411.8" fill="none" stroke="#000" stroke-width="3.4"/>
<path d="M908.6,2411.8 L1043,2276" fill="none" stroke="#000" stroke-width="3.0" stroke-linecap="round"/>
<!-- fc -->
<clipPath id="fc1"><polygon points="1330.4,2561.2 1330.4,1761.6 1465.6,1625.4 1536.9,1625.4 1536.9,2425 1401.7,2561.2"/></clipPath>
<polygon points="1330.4,2561.2 1330.4,1761.6 1465.6,1625.4 1536.9,1625.4 1536.9,2425 1401.7,2561.2" fill="#f4ae94"/>
<path d="M1465.6,1625.4 L1465.6,2425" fill="none" stroke="rgba(70,40,35,0.6)" stroke-width="2.0" stroke-dasharray="15 13.5"/>
<path d="M1330.4,2561.2 L1465.6,2425" fill="none" stroke="rgba(40,30,30,0.75)" stroke-width="2.0" stroke-dasharray="12 17"/>
<path d="M1536.9,2425 L1465.6,2425" fill="none" stroke="rgba(70,40,35,0.5)" stroke-width="2.4" stroke-dasharray="15 14"/>
<path d="M1330.4,1761.6 L1465.6,1625.4" fill="none" stroke="#111" stroke-width="2.4"/>
<path d="M1465.6,1625.4 L1536.9,1625.4" fill="none" stroke="#111" stroke-width="2.2"/>
<path d="M1536.9,1625.4 L1536.9,2425" fill="none" stroke="#333" stroke-width="1.6"/>
<path d="M1401.7,1761.6 L1536.9,1625.4" fill="none" stroke="#111" stroke-width="2.6"/>
<path d="M1330.4,1761.6 L1401.7,1761.6" fill="none" stroke="#111" stroke-width="3"/>
<path d="M1401.7,1761.6 L1401.7,2561.2" fill="none" stroke="#333" stroke-width="2.2"/>
<path d="M1330.4,1761.6 L1330.4,2562.95" fill="none" stroke="#000" stroke-width="5"/>
<path d="M1327.9,2561.2 L1401.7,2561.2" fill="none" stroke="#000" stroke-width="3.5"/>
<path d="M1401.7,2561.2 L1536.9,2425" fill="none" stroke="#000" stroke-width="3.0" stroke-linecap="round"/>
<polygon points="1436,2561.2 1436,1761.6 1570.6,1625.4 1641.6,1625.4 1641.6,2425 1507,2561.2" fill="#f4ae94"/>
<polygon points="1436,2561.2 1436,1761.6 1570.6,1625.4 1641.6,1625.4 1641.6,2425 1507,2561.2" fill="#ee7b5c" clip-path="url(#fc1)"/>
<clipPath id="fc2"><polygon points="1436,2561.2 1436,1761.6 1570.6,1625.4 1641.6,1625.4 1641.6,2425 1507,2561.2"/></clipPath>
<g clip-path="url(#fc2)" opacity="0.6">
<path d="M1465.6,1625.4 L1465.6,2425" fill="none" stroke="rgba(70,40,35,0.6)" stroke-width="2.0" stroke-dasharray="15 13.5"/>
<path d="M1330.4,2561.2 L1465.6,2425" fill="none" stroke="rgba(40,30,30,0.75)" stroke-width="2.0" stroke-dasharray="12 17"/>
<path d="M1536.9,2425 L1465.6,2425" fill="none" stroke="rgba(70,40,35,0.5)" stroke-width="2.4" stroke-dasharray="15 14"/>
<path d="M1330.4,1761.6 L1465.6,1625.4" fill="none" stroke="#000" stroke-width="0.01"/>
<path d="M1465.6,1625.4 L1536.9,1625.4" fill="none" stroke="#000" stroke-width="0.01"/>
<path d="M1536.9,1625.4 L1536.9,2425" fill="none" stroke="#333" stroke-width="1.6"/>
<path d="M1401.7,1761.6 L1536.9,1625.4" fill="none" stroke="#000" stroke-width="0.01"/>
<path d="M1330.4,1761.6 L1401.7,1761.6" fill="none" stroke="#000" stroke-width="0.01"/>
<path d="M1401.7,1761.6 L1401.7,2561.2" fill="none" stroke="#333" stroke-width="2.2"/>
<path d="M1330.4,1761.6 L1330.4,2561.2" fill="none" stroke="#000" stroke-width="0.01"/>
<path d="M1330.39,2561.2 L1401.7,2561.2" fill="none" stroke="#000" stroke-width="0.01"/>
<path d="M1401.7,2561.2 L1536.9,2425" fill="none" stroke="#333" stroke-width="2" stroke-linecap="round"/>
</g>
<path d="M1570.6,1625.4 L1570.6,2425" fill="none" stroke="rgba(70,40,35,0.6)" stroke-width="2.0" stroke-dasharray="15 13.5"/>
<path d="M1436,2561.2 L1570.6,2425" fill="none" stroke="rgba(40,30,30,0.75)" stroke-width="2.0" stroke-dasharray="12 17"/>
<path d="M1641.6,2425 L1570.6,2425" fill="none" stroke="rgba(70,40,35,0.5)" stroke-width="2.4" stroke-dasharray="15 14"/>
<path d="M1436,1761.6 L1570.6,1625.4" fill="none" stroke="#111" stroke-width="2.4"/>
<path d="M1570.6,1625.4 L1641.6,1625.4" fill="none" stroke="#111" stroke-width="2.2"/>
<path d="M1641.6,1625.4 L1641.6,2425" fill="none" stroke="#333" stroke-width="1.6"/>
<path d="M1507,1761.6 L1641.6,1625.4" fill="none" stroke="#111" stroke-width="2.6"/>
<path d="M1436,1761.6 L1507,1761.6" fill="none" stroke="#111" stroke-width="3"/>
<path d="M1507,1761.6 L1507,2561.2" fill="none" stroke="#333" stroke-width="2.2"/>
<path d="M1436,1761.6 L1436,2562.95" fill="none" stroke="#000" stroke-width="5"/>
<path d="M1433.5,2561.2 L1507,2561.2" fill="none" stroke="#000" stroke-width="3.5"/>
<path d="M1507,2561.2 L1641.6,2425" fill="none" stroke="#000" stroke-width="3.0" stroke-linecap="round"/>
<!-- softmax -->
<polygon points="1888.8,2297.4 1888.8,1997.6 1996.8,1889.6 2103.4,1889.6 2103.4,2189.4 1995.4,2297.4" fill="#c1e3e5"/>
<path d="M1996.8,1889.6 L1996.8,2189.4" fill="none" stroke="#444" stroke-width="2.8" stroke-dasharray="15 13.5"/>
<path d="M1888.8,2297.4 L1996.8,2189.4" fill="none" stroke="#333" stroke-width="2.0" stroke-dasharray="12 17"/>
<path d="M2103.4,2189.4 L1996.8,2189.4" fill="none" stroke="rgba(60,70,70,0.6)" stroke-width="2.2" stroke-dasharray="15 14"/>
<path d="M1888.8,1997.6 L1996.8,1889.6" fill="none" stroke="#222" stroke-width="1.3"/>
<path d="M1996.8,1889.6 L2103.4,1889.6" fill="none" stroke="#999" stroke-width="1.6"/>
<path d="M2103.4,1889.6 L2103.4,2189.4" fill="none" stroke="#222" stroke-width="2.6"/>
<path d="M1995.4,1997.6 L2103.4,1889.6" fill="none" stroke="#111" stroke-width="2.6"/>
<path d="M1888.8,1997.6 L1995.4,1997.6" fill="none" stroke="#222" stroke-width="2"/>
<path d="M1995.4,1997.6 L1995.4,2297.4" fill="none" stroke="#444" stroke-width="2.6"/>
<path d="M1888.8,1997.6 L1888.8,2299.1" fill="none" stroke="#000" stroke-width="3.6"/>
<path d="M1887,2297.4 L1995.4,2297.4" fill="none" stroke="#000" stroke-width="3.4"/>
<path d="M1995.4,2297.4 L2103.4,2189.4" fill="none" stroke="#000" stroke-width="3.0" stroke-linecap="round"/>
<!-- classification -->
<polygon points="2228.6,2494.7 2228.6,1894.5 2431.2,1691.3 2502.4,1691.3 2502.4,2291.5 2299.8,2494.7" fill="#fde8c3"/>
<path d="M2431.2,1691.3 L2431.2,2291.5" fill="none" stroke="#666" stroke-width="1.8" stroke-dasharray="15 13.5"/>
<path d="M2228.6,2494.7 L2431.2,2291.5" fill="none" stroke="rgba(60,55,45,0.6)" stroke-width="2.0" stroke-dasharray="12 17"/>
<path d="M2502.4,2291.5 L2431.2,2291.5" fill="none" stroke="rgba(60,55,45,0.5)" stroke-width="2.4" stroke-dasharray="15 14"/>
<path d="M2228.6,1894.5 L2431.2,1691.3" fill="none" stroke="#222" stroke-width="1.5"/>
<path d="M2431.2,1691.3 L2502.4,1691.3" fill="none" stroke="#888" stroke-width="2"/>
<path d="M2502.4,1691.3 L2502.4,2291.5" fill="none" stroke="#333" stroke-width="2.4"/>
<path d="M2299.8,1894.5 L2502.4,1691.3" fill="none" stroke="#222" stroke-width="2.6"/>
<path d="M2228.6,1894.5 L2299.8,1894.5" fill="none" stroke="#333" stroke-width="1.6"/>
<path d="M2299.8,1894.5 L2299.8,2494.7" fill="none" stroke="#444" stroke-width="2.2"/>
<path d="M2228.6,1894.5 L2228.6,2496.4" fill="none" stroke="#000" stroke-width="4.2"/>
<path d="M2226.5,2494.7 L2299.8,2494.7" fill="none" stroke="#000" stroke-width="3.4"/>
<path d="M2299.8,2494.7 L2502.4,2291.5" fill="none" stroke="#000" stroke-width="3.0" stroke-linecap="round"/>
<!-- arrows -->
<path d="M306.7,863.4 H835" stroke="#054d4d" stroke-width="8.6" fill="none"/><path d="M607,863.4 L526.5,832.4 L552,863.4 L527.3,894.4 Z" fill="#054d4d"/><rect x="602.3" y="856.8" width="2.6" height="3" fill="#054d4d"/>
<path d="M1046.1,863.4 H1574.5" stroke="#054d4d" stroke-width="8.6" fill="none"/><path d="M1346,863.4 L1265.5,832.4 L1291,863.4 L1266.3,894.4 Z" fill="#054d4d"/><rect x="1341.3" y="856.8" width="2.6" height="3" fill="#054d4d"/>
<path d="M1749.1,863.4 H2277.1" stroke="#054d4d" stroke-width="8.6" fill="none"/><path d="M2049.4,863.4 L1968.9,832.4 L1994.4,863.4 L1969.7,894.4 Z" fill="#054d4d"/><rect x="2044.7" y="856.8" width="2.6" height="3" fill="#054d4d"/>
<path d="M2488.5,863.4 H2946.1" stroke="#054d4d" stroke-width="8.6" fill="none"/><path d="M2752.7,863.4 L2672.2,832.4 L2697.7,863.4 L2673,894.4 Z" fill="#054d4d"/><rect x="2748" y="856.8" width="2.6" height="3" fill="#054d4d"/>
<path d="M976.1,2093.3 H1398.6" stroke="#054d4d" stroke-width="8.6" fill="none"/><path d="M1223.2,2093.3 L1142.7,2062.3 L1168.2,2093.3 L1143.5,2124.3 Z" fill="#054d4d"/><rect x="1218.5" y="2086.7" width="2.6" height="3" fill="#054d4d"/>
<path d="M1573.4,2093.3 H1942.5" stroke="#054d4d" stroke-width="8.6" fill="none"/><path d="M1793.5,2093.3 L1713,2062.3 L1738.5,2093.3 L1713.8,2124.3 Z" fill="#054d4d"/><rect x="1788.8" y="2086.7" width="2.6" height="3" fill="#054d4d"/>
<path d="M2048.3,2093.3 H2330.8" stroke="#054d4d" stroke-width="8.6" fill="none"/><path d="M2225,2093.3 L2144.5,2062.3 L2170,2093.3 L2145.3,2124.3 Z" fill="#054d4d"/><rect x="2220.3" y="2086.7" width="2.6" height="3" fill="#054d4d"/>
<!-- frames -->
<rect x="1491.6" y="432.6" width="348.8" height="875.4" fill="none" stroke="#1a5858" stroke-width="9.2"/>
<rect x="780.5" y="1754.9" width="275.6" height="671.8" fill="none" stroke="#1a5858" stroke-width="9.4"/>
<path d="M1665.8,1312 V1602.9 H918.5 V1700" fill="none" stroke="#1a5858" stroke-width="9.4" stroke-linejoin="miter"/>
<path d="M918.4,1751 L892.2,1693 Q918.4,1707.5 944.8,1693 Z" fill="#1a5858"/>
<g font-family="Liberation Sans, sans-serif" font-size="61.5" fill="#000">
<text transform="translate(727.3,1578.7) scale(1.017,1)">Encoder</text>
<text transform="translate(2170,1578.7) scale(1.0156,1)">Decoder</text>
<text transform="translate(615.9,2476.4) scale(1.006,1)">Compressed Data</text>
<text transform="translate(1077.8,2625.6) scale(1.0105,1)">Fully connected layer</text>
<text transform="translate(1829.8,2363.1) scale(1.0095,1)">Softmax</text>
<text transform="translate(1998,2560) scale(1.012,1)">Classification Layer</text>
</g>
<g font-family="Liberation Serif, serif" font-style="italic" font-size="157" fill="#000">
</g>
<path d="M400,105 L1015,105 L1005,165 C940,170 870,190 855,240 L1075,695 L1395,335 C1435,285 1420,215 1310,165 L1315,105 L1840,105 L1830,165 C1700,185 1600,210 1520,290 L1100,765 L1440,1440 C1480,1520 1560,1550 1690,1555 L1680,1615 L1070,1615 L1085,1555 C1190,1545 1250,1510 1235,1470 L960,940 L560,1400 C510,1455 550,1530 660,1550 L650,1615 L130,1615 L140,1555 C300,1535 400,1480 480,1400 L930,870 L640,270 C605,200 540,170 400,165 Z" fill="#000" transform="translate(2455,45) scale(0.067218)"/>
<path d="M400,105 L1015,105 L1005,165 C940,170 870,190 855,240 L1075,695 L1395,335 C1435,285 1420,215 1310,165 L1315,105 L1840,105 L1830,165 C1700,185 1600,210 1520,290 L1100,765 L1440,1440 C1480,1520 1560,1550 1690,1555 L1680,1615 L1070,1615 L1085,1555 C1190,1545 1250,1510 1235,1470 L960,940 L560,1400 C510,1455 550,1530 660,1550 L650,1615 L130,1615 L140,1555 C300,1535 400,1480 480,1400 L930,870 L640,270 C605,200 540,170 400,165 Z" fill="#000" transform="translate(978.8,45) scale(0.067218)"/>
<path d="M480,180 L1420,180 Q1445,185 1435,215 L420,1500 L850,1500 C1000,1490 1120,1420 1180,1300 C1230,1200 1250,1100 1265,1025 L1310,1025 L1190,1570 L215,1570 Q195,1560 205,1520 L1220,237 L850,237 C700,245 580,290 520,380 C470,450 445,560 430,630 L385,630 Z" fill="#000" transform="translate(1700,285) scale(0.073035)"/>
<path d="M2486.9,23.3 L2532.4,0.5 L2570.3,23.3 L2568.9,26.8 L2531.4,8.9 L2488.2,26.6 Z" fill="#000"/>
</svg>
</body></html>
